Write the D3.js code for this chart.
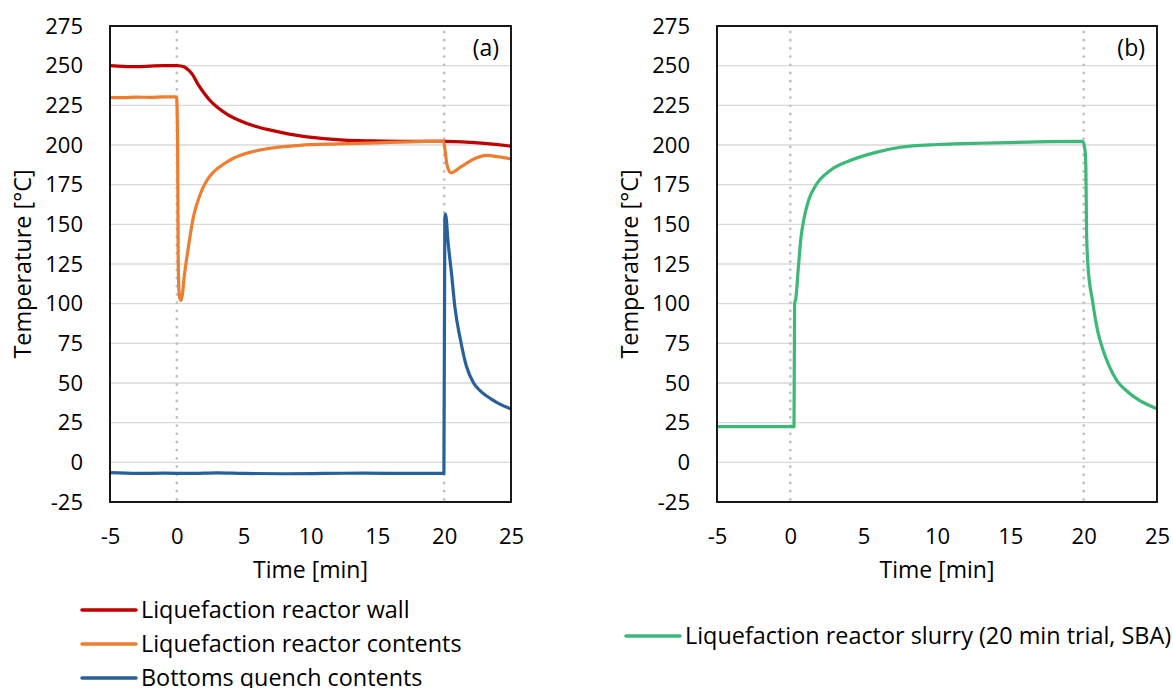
<!DOCTYPE html>
<html>
<head>
<meta charset="utf-8">
<script src="https://cdn.jsdelivr.net/npm/d3@7"></script>
<style>
  body { margin: 0; background: #fff; }
  text { font-family: "Open Sans", sans-serif; fill: #000; }
</style>
</head>
<body>
<div id="chart-container"></div>
<script>
// Axis ticks (same for both panels)
const xTicks = [-5, 0, 5, 10, 15, 20, 25];
const yTicks = [-25, 0, 25, 50, 75, 100, 125, 150, 175, 200, 225, 250, 275];
const markerTimes = [0, 20];

// (a) Liquefaction reactor wall
const wallTime = [-5, -4, -3, -2, -1, 0, 0.3, 0.6, 0.9, 1.2, 1.6, 2.1, 2.6, 3.15, 3.8, 4.6, 5.8, 7.1, 8.3, 9.6, 11, 12.5, 14.6, 17.5, 20, 22, 25];
const wallTemp = [250, 249.6, 249.4, 249.7, 250, 250, 249.8, 249, 247, 244, 238, 232, 227, 223, 219.2, 215.8, 212, 209.2, 207, 205.3, 204, 203.1, 202.6, 202.3, 202.3, 201.6, 199.3];

// (a) Liquefaction reactor contents
const contentsTime = [-5, -4, -3, -2, -1, -0.02, 0.06, 0.1, 0.15, 0.22, 0.32, 0.42, 0.55, 0.8, 1.25, 1.73, 2.2, 2.75, 3.6, 4.2, 5.1, 6.7, 9.2, 12, 15, 17.5, 19.95, 20.05, 20.2, 20.5, 21.3, 22.3, 23.2, 24.1, 25];
const contentsTemp = [230, 229.8, 230.2, 230, 230.3, 230.3, 200, 130, 110, 103.5, 102, 106, 117, 132, 155, 168.5, 177, 183, 188.5, 191.5, 194.5, 197.6, 199.8, 200.7, 201.4, 202, 202.4, 198, 188, 182.5, 186.5, 191.5, 193.5, 192.5, 191.3];

// (a) Bottoms quench contents
const quenchTime = [-5, -3, -1, 1, 3, 5, 8, 11, 14, 17, 19.98, 20.05, 20.1, 20.3, 20.55, 20.8, 21.2, 21.65, 22.2, 22.7, 23.5, 24.2, 25];
const quenchTemp = [-6.5, -7, -6.8, -7, -6.6, -7, -7.2, -7, -6.8, -7, -7, 154, 156.5, 138, 119, 98, 78, 61, 50, 45, 40, 36.5, 33.7];

// (b) Liquefaction reactor slurry
const slurryTime = [-5, -2, 0.25, 0.29, 0.37, 0.55, 0.73, 0.94, 1.24, 1.81, 2.72, 4.08, 5.9, 7.5, 10, 12.5, 16.9, 19.95, 20.1, 20.15, 20.2, 20.3, 20.6, 20.95, 21.35, 21.75, 22.3, 22.9, 23.8, 25];
const slurryTemp = [22.5, 22.5, 22.5, 100, 103, 123, 142, 154, 165, 175.6, 184, 190.2, 195.5, 198.6, 200.3, 201, 202, 202.3, 196, 186, 144, 123, 102, 83, 70, 60.5, 51, 45.3, 39, 33.8];

const leftLegend = ["Liquefaction reactor wall", "Liquefaction reactor contents", "Bottoms quench contents"];
const rightLegend = ["Liquefaction reactor slurry (20 min trial, SBA)"];

const colors = { wall: "#c00000", contents: "#ed7d31", quench: "#28609a", slurry: "#3cb878" };

const zip = (ts, vs) => ts.map((t, i) => ({ t: t, v: vs[i] }));

const svg = d3.select("#chart-container")
    .append("svg")
    .attr("width", 1173)
    .attr("height", 688);

// Function to draw one panel
function drawPanel(opts) {
    const x = d3.scaleLinear().domain([-5, 25]).range([opts.left, opts.right]);
    const y = d3.scaleLinear().domain([-25, 275]).range([502, 26]);
    const g = svg.append("g");

    // gridlines
    g.selectAll(".grid")
        .data(yTicks)
        .enter().append("line")
        .attr("x1", opts.left).attr("x2", opts.right)
        .attr("y1", d => y(d)).attr("y2", d => y(d))
        .attr("stroke", "#d9d9d9")
        .attr("stroke-width", 1.4);

    // dotted markers at 0 and 20 min
    g.selectAll(".marker")
        .data(markerTimes)
        .enter().append("line")
        .attr("x1", d => x(d)).attr("x2", d => x(d))
        .attr("y1", y(275) + 6).attr("y2", y(-25))
        .attr("stroke", "#bfbfbf")
        .attr("stroke-width", 2.8)
        .attr("stroke-linecap", "round")
        .attr("stroke-dasharray", "0 8.2");

    const line = d3.line()
        .x(d => x(d.t))
        .y(d => y(d.v))
        .curve(d3.curveMonotoneX);

    opts.series.forEach(s => {
        g.append("path")
            .datum(s.data)
            .attr("fill", "none")
            .attr("stroke", s.color)
            .attr("stroke-width", 3.2)
            .attr("stroke-linejoin", "round")
            .attr("d", line);
    });

    // frame
    g.append("rect")
        .attr("x", opts.left).attr("y", 26)
        .attr("width", opts.right - opts.left).attr("height", 476)
        .attr("fill", "none")
        .attr("stroke", "#000")
        .attr("stroke-width", 1.8);

    // y axis labels
    const yAxis = g.append("g")
        .attr("transform", `translate(${opts.left},0)`)
        .call(d3.axisLeft(y).tickValues(yTicks).tickSize(0).tickPadding(27).tickFormat(d => String(d)));
    yAxis.select(".domain").remove();
    yAxis.selectAll("text").style("font-size", "22px").style("font-family", "'Open Sans', sans-serif");

    // x axis labels
    const xAxis = g.append("g")
        .attr("transform", "translate(0,502)")
        .call(d3.axisBottom(x).tickValues(xTicks).tickSize(0).tickPadding(26).tickFormat(d => String(d)));
    xAxis.select(".domain").remove();
    xAxis.selectAll("text").style("font-size", "22px").style("font-family", "'Open Sans', sans-serif");

    // axis titles
    g.append("text")
        .attr("x", (opts.left + opts.right) / 2)
        .attr("y", 578)
        .attr("text-anchor", "middle")
        .style("font-size", "23px")
        .text("Time [min]");

    g.append("text")
        .attr("transform", `translate(${opts.left - 79},264) rotate(-90)`)
        .attr("text-anchor", "middle")
        .style("font-size", "23.4px")
        .text("Temperature [°C]");

    // panel tag
    g.append("text")
        .attr("x", opts.right - 12)
        .attr("y", 56)
        .attr("text-anchor", "end")
        .style("font-size", "23px")
        .text(opts.tag);

    // legend
    opts.legend.forEach((label, i) => {
        const ly = opts.legendY + i * 34;
        g.append("line")
            .attr("x1", opts.legendX).attr("x2", opts.legendX + 54)
            .attr("y1", ly).attr("y2", ly)
            .attr("stroke", opts.series[i].color)
            .attr("stroke-width", 3.5)
            .attr("stroke-linecap", "round");
        g.append("text")
            .attr("x", opts.legendX + 59)
            .attr("y", ly)
            .attr("dy", "0.35em")
            .style("font-size", "23.4px")
            .text(label);
    });
}

drawPanel({
    left: 110, right: 511, tag: "(a)",
    legend: leftLegend, legendX: 82, legendY: 610,
    series: [
        { data: zip(wallTime, wallTemp), color: colors.wall },
        { data: zip(contentsTime, contentsTemp), color: colors.contents },
        { data: zip(quenchTime, quenchTemp), color: colors.quench }
    ]
});

drawPanel({
    left: 717, right: 1157, tag: "(b)",
    legend: rightLegend, legendX: 626, legendY: 636,
    series: [
        { data: zip(slurryTime, slurryTemp), color: colors.slurry }
    ]
});
</script>
</body>
</html>
